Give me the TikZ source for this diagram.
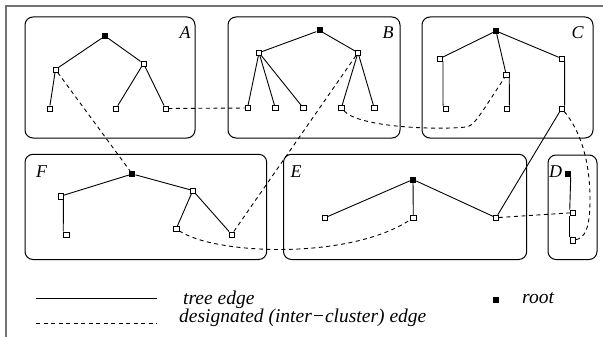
\documentclass[tikz,border=0pt]{standalone}
\usepackage{fontspec}
\setmainfont{Liberation Serif}
\begin{document}
\begin{tikzpicture}[x=1pt,y=-1pt,
  leaf/.style={draw,fill=white,minimum size=5.3pt,inner sep=0pt,line width=0.6pt},
  rootn/.style={fill=black,minimum size=6pt,inner sep=0pt},
  tree/.style={line width=0.9pt},
  desig/.style={line width=0.9pt,dash pattern=on 4pt off 3.5pt},
  cluster/.style={rounded corners=8pt,line width=1pt},
  clabel/.style={font=\itshape\fontsize{18}{20}\selectfont,anchor=base,inner sep=0pt},
  ltext/.style={font=\itshape\fontsize{19.5}{22}\selectfont,anchor=base west,inner sep=0pt},
  frame/.style={draw=black!55,line width=2pt}]
\useasboundingbox (0,0) rectangle (603,337);
% outer frame
\draw[frame] (6,337) -- (6,6) -- (603,6);
% clusters
\draw[cluster] (25,17) rectangle (195,138);
\draw[cluster] (228,17) rectangle (400,138);
\draw[cluster] (422,17) rectangle (593,138);
\draw[cluster] (548,155) rectangle (597,259.5);
\draw[cluster] (283.5,154.3) rectangle (526.7,259.5);
\draw[cluster] (25,154.3) rectangle (266.7,259.5);
\node[clabel] at (185,38.5) {A};
\node[clabel] at (388,38.5) {B};
\node[clabel] at (577.5,38.5) {C};
\node[clabel] at (555.5,177.5) {D};
\node[clabel] at (296,177.5) {E};
\node[clabel] at (41.5,177.5) {F};
% cluster A
\node[rootn] (ar) at (105,36) {};
\node[leaf] (a1) at (55.5,69.5) {};
\node[leaf] (a2) at (143.5,63.5) {};
\node[leaf] (a1l) at (49.5,108.5) {};
\node[leaf] (a2l1) at (116,108.5) {};
\node[leaf] (a2l2) at (165.5,108.5) {};
% cluster B
\node[rootn] (br) at (319.5,30.5) {};
\node[leaf] (b1) at (259,52.7) {};
\node[leaf] (b2) at (358,52.7) {};
\node[leaf] (bl1) at (247.5,108) {};
\node[leaf] (bl2) at (275.3,108) {};
\node[leaf] (bl3) at (303.3,108) {};
\node[leaf] (bl4) at (341.3,108) {};
\node[leaf] (bl5) at (374.2,108) {};
% cluster C
\node[rootn] (cr) at (496,31) {};
\node[leaf] (c1) at (440,58.5) {};
\node[leaf] (c1l) at (446,108.5) {};
\node[leaf] (c2) at (506.3,75) {};
\node[leaf] (c2l) at (506.5,108.5) {};
\node[leaf] (c3) at (561.7,58.5) {};
\node[leaf] (c3l) at (561.6,108.5) {};
% cluster D
\node[rootn] (dr) at (567.5,174) {};
\node[leaf] (dm) at (572.7,212.7) {};
\node[leaf] (dl) at (572.7,240.3) {};
% cluster E
\node[rootn] (er) at (413,179.5) {};
\node[leaf] (el1) at (325,217.7) {};
\node[leaf] (el2) at (413.3,217.7) {};
\node[leaf] (el3) at (496,217.7) {};
% cluster F
\node[rootn] (fr) at (132.3,174) {};
\node[leaf] (f1) at (60.5,196.2) {};
\node[leaf] (f1l) at (66.2,234.5) {};
\node[leaf] (f2) at (192.8,190.5) {};
\node[leaf] (f2l1) at (176.2,228.8) {};
\node[leaf] (f2l2) at (231.7,234.5) {};
% tree edges
\draw[tree] (ar) -- (a1);
\draw[tree] (ar) -- (a2);
\draw[tree] (a1) -- (a1l);
\draw[tree] (a2) -- (a2l1);
\draw[tree] (a2) -- (a2l2);
\draw[tree] (br) -- (b1);
\draw[tree] (br) -- (b2);
\draw[tree] (b1) -- (bl1);
\draw[tree] (b1) -- (bl2);
\draw[tree] (b1) -- (bl3);
\draw[tree] (b2) -- (bl4);
\draw[tree] (b2) -- (bl5);
\draw[tree] (cr) -- (c1);
\draw[tree] (cr) -- (c2);
\draw[tree] (cr) -- (c3);
\draw[tree] (c1.south east) -- (c1l.north west);
\draw[tree] (c2.south east) -- (c2l.north east);
\draw[tree] (c3.south east) -- (c3l.north east);
\draw[tree] (dr.south east) -- (dm.north west);
\draw[tree] (dm.south west) -- (dl.north west);
\draw[tree] (er) -- (el1);
\draw[tree] (er) -- (el2);
\draw[tree] (er) -- (el3);
\draw[tree] (fr) -- (f1);
\draw[tree] (fr) -- (f2);
\draw[tree] (f1.south east) -- (f1l.north west);
\draw[tree] (f2) -- (f2l1);
\draw[tree] (f2) -- (f2l2);
\draw[tree] (c3l) -- (el3);
% designated edges
\draw[desig] (a2l2) -- (bl1);
\draw[desig] (a1) -- (fr);
\draw[desig] (b2) -- (f2l2);
\draw[desig] (bl4) .. controls (360,128) and (440,130) .. (466,127)
   .. controls (474,126) and (478,118) .. (c2);
\draw[desig] (c3l) .. controls (580,130) and (590,160) .. (590,200)
   .. controls (590,228) and (585,238) .. (dl);
\draw[desig] (f2l1) .. controls (215,255) and (350,260) .. (el2);
\draw[desig] (el3) -- (dm);
% legend
\coordinate (s1) at (36,298);
\coordinate (s2) at (157,298);
\coordinate (d1) at (36,323);
\coordinate (d2) at (157,323);
\draw[line width=0.9pt] (s1) -- (s2);
\draw[desig] (d1) -- (d2);
\node[ltext] (t1) at (183,304) {tree edge};
\node[ltext] (t2) at (179,322) {designated (inter−cluster) edge};
\node[rootn] (lr) at (495.5,300) {};
\node[ltext] (t3) at (522,303) {root};
\end{tikzpicture}
\end{document}
